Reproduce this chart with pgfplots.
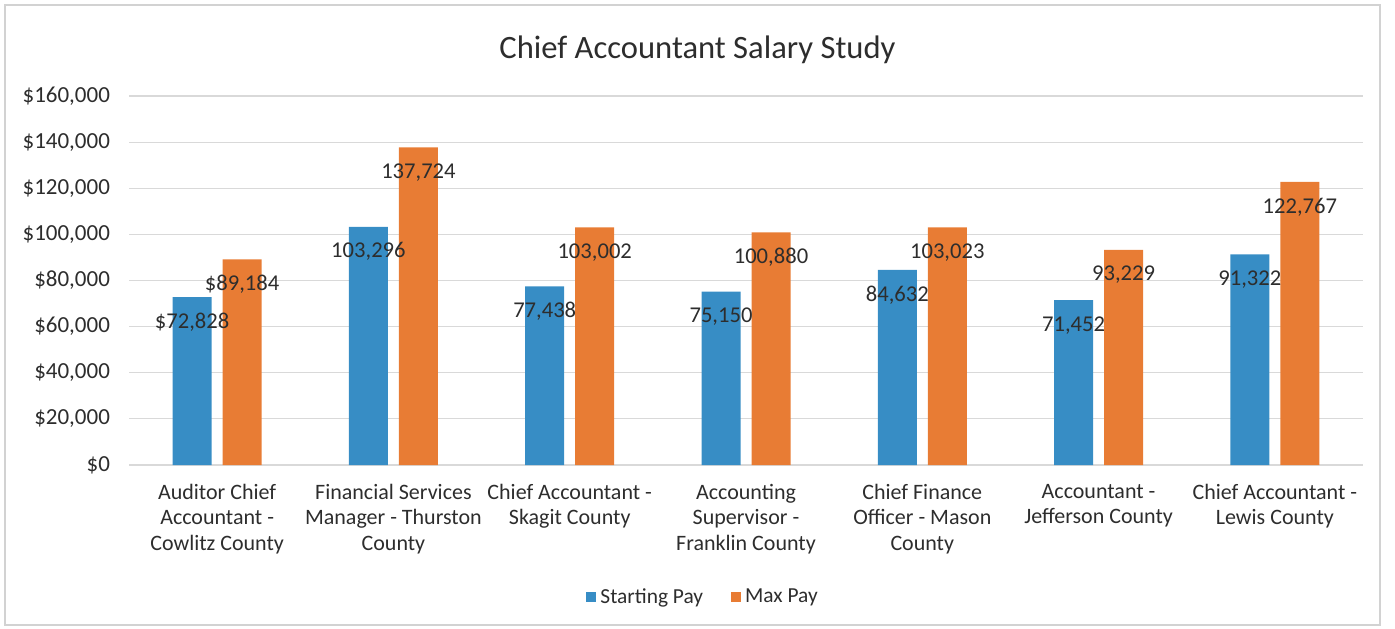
\documentclass[border=0pt]{standalone}
\usepackage{fontspec}
\setmainfont{Carlito}
\usepackage{pgfplots}
\pgfplotsset{compat=1.18}
\definecolor{sblue}{RGB}{55,141,197}
\definecolor{sorange}{RGB}{232,124,52}
\definecolor{txt}{RGB}{45,45,45}
\begin{document}
\begin{tikzpicture}
\useasboundingbox (0,0) rectangle (697.5pt,314pt);
\draw[gray!35, line width=0.6pt] (2.5pt,1.5pt) rectangle (690pt,311.5pt);
\node[font=\fontsize{16.3}{19}\selectfont, text=txt] at (348.75pt,289pt) {Chief Accountant Salary Study};
\begin{axis}[
  at={(64.5pt,81.5pt)}, anchor=south west,
  scale only axis, width=617pt, height=184.5pt,
  ymin=0, ymax=160000, xmin=-0.5, xmax=6.5,
  scaled y ticks=false,
  ytick={0,20000,40000,60000,80000,100000,120000,140000,160000},
  yticklabels={\$0,{\$20,000},{\$40,000},{\$60,000},{\$80,000},{\$100,000},{\$120,000},{\$140,000},{\$160,000}},
  xtick={0,1,2,3,4,5,6},
  xticklabels={
    {Auditor Chief\\Accountant -\\Cowlitz County},
    {Financial Services\\Manager - Thurston\\County},
    {Chief Accountant -\\Skagit County},
    {Accounting\\Supervisor -\\Franklin County},
    {Chief Finance\\Officer - Mason\\County},
    {Accountant -\\Jefferson County},
    {Chief Accountant -\\Lewis County}},
  xticklabel style={font=\fontsize{11}{12.75}\selectfont, text=txt, align=center, anchor=north, yshift=-6pt},
  yticklabel style={font=\fontsize{11.5}{13}\selectfont, text=txt, anchor=east, xshift=-6pt},
  major tick length=0pt,
  axis line style={draw=none},
  ymajorgrids, major grid style={draw=gray!30, line width=0.6pt},
  ybar=5.5pt, bar width=19.5pt,
  point meta=explicit symbolic,
  nodes near coords,
  nodes near coords style={font=\fontsize{11.3}{13}\selectfont, text=txt, anchor=center, yshift=-12.5pt},
  legend style={at={(0.466,-0.358)}, anchor=center, legend columns=2, draw=none, fill=none,
    font=\fontsize{10.7}{12}\selectfont, text=txt,
    /tikz/every even column/.append style={column sep=12pt}},
  legend image code/.code={\fill[#1] (0pt,-2.5pt) rectangle (5pt,2.5pt);},
]
\addplot[draw=none, fill=sblue] coordinates {
  (0,72828) [\$72,828]
  (1,103296) [103,296]
  (2,77438) [77,438]
  (3,75150) [75,150]
  (4,84632) [84,632]
  (5,71452) [71,452]
  (6,91322) [91,322]
};
\addplot[draw=none, fill=sorange] coordinates {
  (0,89184) [\$89,184]
  (1,137724) [137,724]
  (2,103002) [103,002]
  (3,100880) [100,880]
  (4,103023) [103,023]
  (5,93229) [93,229]
  (6,122767) [122,767]
};
\legend{Starting Pay, Max Pay}
\end{axis}
\end{tikzpicture}
\end{document}
